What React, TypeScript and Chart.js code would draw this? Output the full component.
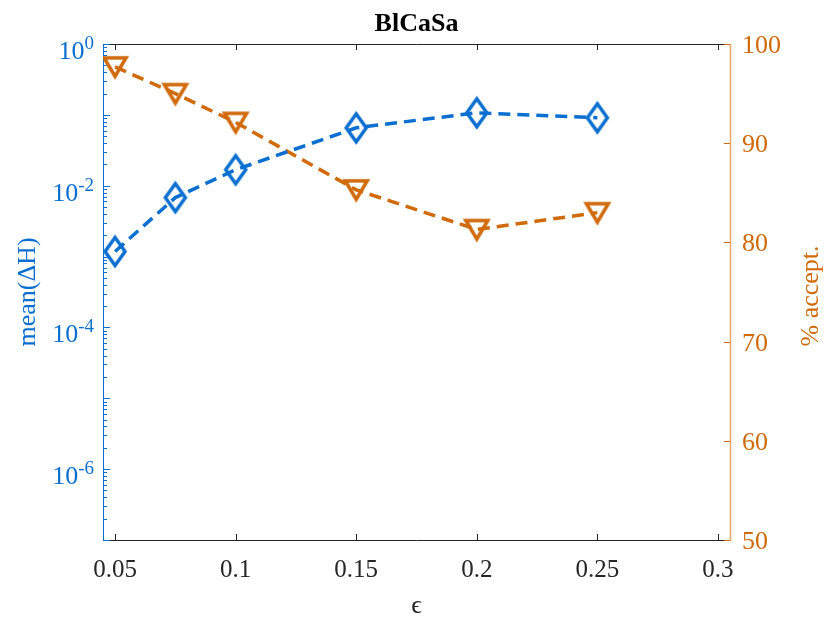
import React, { useEffect, useRef } from 'react';
import { Chart, registerables } from 'chart.js';

Chart.register(...registerables);

// ---- data ----
const epsilons = [0.05, 0.075, 0.1, 0.15, 0.2, 0.25];
const meanDeltaH = [1.18e-3, 6.8e-3, 1.68e-2, 6.56e-2, 0.107, 0.091];
const acceptPct = [97.7, 95.0, 92.1, 85.3, 81.3, 83.0];
const xTicks = [0.05, 0.1, 0.15, 0.2, 0.25, 0.3];
const xTickLabels = ['0.05', '0.1', '0.15', '0.2', '0.25', '0.3'];
const leftLabelExps = [-6, -4, -2, 0];
const rightTicks = [50, 60, 70, 80, 90, 100];
const titleText = 'BlCaSa';
const xTitle = 'ϵ';
const leftTitle = 'mean(ΔH)';
const rightTitle = '% accept.';

// ---- style ----
const BLUE = '#0a6fd0';
const ORANGE = '#d06a0a';
const ORANGE_AXIS = '#e9a66a';
const GRAY = '#262626';
const FONT = '"Liberation Serif", "Times New Roman", serif';

function makeDiamond(): HTMLCanvasElement {
  const c = document.createElement('canvas');
  c.width = 28;
  c.height = 36;
  const g = c.getContext('2d')!;
  g.strokeStyle = BLUE;
  g.lineWidth = 3.5;
  g.lineJoin = 'miter';
  g.beginPath();
  g.moveTo(14, 4);
  g.lineTo(24, 18);
  g.lineTo(14, 32);
  g.lineTo(4, 18);
  g.closePath();
  g.stroke();
  return c;
}

function makeTriangle(): HTMLCanvasElement {
  const c = document.createElement('canvas');
  c.width = 30;
  c.height = 30;
  const g = c.getContext('2d')!;
  g.strokeStyle = ORANGE;
  g.lineWidth = 3.5;
  g.lineJoin = 'miter';
  g.beginPath();
  g.moveTo(4, 6);
  g.lineTo(26, 6);
  g.lineTo(15, 24.5);
  g.closePath();
  g.stroke();
  return c;
}

const axesPlugin = {
  id: 'matlabAxes',
  beforeDatasetsDraw(chart: any) {
    const { ctx, chartArea: a, scales } = chart;
    const xs = scales.x;
    const yl = scales.y;
    const yr = scales.y1;
    ctx.save();
    ctx.lineWidth = 1;

    // top and bottom box lines
    ctx.strokeStyle = GRAY;
    ctx.beginPath();
    ctx.moveTo(a.left, a.bottom + 0.5);
    ctx.lineTo(a.right, a.bottom + 0.5);
    ctx.moveTo(a.left, a.top + 0.5);
    ctx.lineTo(a.right, a.top + 0.5);
    ctx.stroke();

    // x ticks (inward, both top and bottom)
    ctx.beginPath();
    for (const t of xTicks) {
      const px = Math.round(xs.getPixelForValue(t)) + 0.5;
      ctx.moveTo(px, a.bottom);
      ctx.lineTo(px, a.bottom - 6);
      ctx.moveTo(px, a.top);
      ctx.lineTo(px, a.top + 6);
    }
    ctx.stroke();

    ctx.fillStyle = GRAY;
    ctx.font = `25px ${FONT}`;
    ctx.textAlign = 'center';
    ctx.textBaseline = 'alphabetic';
    xTicks.forEach((t, i) => {
      ctx.fillText(xTickLabels[i], xs.getPixelForValue(t), a.bottom + 37);
    });

    // left log axis
    ctx.strokeStyle = BLUE;
    ctx.beginPath();
    ctx.moveTo(a.left + 0.5, a.top);
    ctx.lineTo(a.left + 0.5, a.bottom + 1);
    const minExp = Math.round(Math.log10(yl.min));
    const maxExp = Math.round(Math.log10(yl.max));
    for (let e = minExp; e <= maxExp; e++) {
      const py = Math.round(yl.getPixelForValue(Math.pow(10, e))) + 0.5;
      ctx.moveTo(a.left, py);
      ctx.lineTo(a.left + 7, py);
      if (e < maxExp) {
        for (let k = 2; k <= 9; k++) {
          const pm = Math.round(yl.getPixelForValue(k * Math.pow(10, e))) + 0.5;
          ctx.moveTo(a.left, pm);
          ctx.lineTo(a.left + 4, pm);
        }
      }
    }
    ctx.stroke();

    ctx.fillStyle = BLUE;
    for (const e of leftLabelExps) {
      const py = yl.getPixelForValue(Math.pow(10, e));
      const sup = String(e);
      ctx.font = `19px ${FONT}`;
      const ws = ctx.measureText(sup).width;
      const rightEdge = a.left - 9;
      ctx.textAlign = 'left';
      ctx.fillText(sup, rightEdge - ws, py + 5);
      ctx.font = `26px ${FONT}`;
      ctx.textAlign = 'right';
      ctx.fillText('10', rightEdge - ws, py + 15);
    }

    // right linear axis
    ctx.strokeStyle = ORANGE_AXIS;
    ctx.lineWidth = 1.5;
    ctx.beginPath();
    ctx.moveTo(a.right + 0.5, a.top);
    ctx.lineTo(a.right + 0.5, a.bottom + 1);
    ctx.stroke();
    ctx.strokeStyle = ORANGE;
    ctx.lineWidth = 1;
    ctx.beginPath();
    for (const t of rightTicks) {
      const py = Math.round(yr.getPixelForValue(t)) + 0.5;
      ctx.moveTo(a.right, py);
      ctx.lineTo(a.right - 6, py);
    }
    ctx.stroke();
    ctx.fillStyle = ORANGE;
    ctx.font = `26px ${FONT}`;
    ctx.textAlign = 'left';
    for (const t of rightTicks) {
      ctx.fillText(String(t), a.right + 12, yr.getPixelForValue(t) + 9);
    }

    // titles
    const cx = (a.left + a.right) / 2;
    const cy = (a.top + a.bottom) / 2;
    ctx.fillStyle = '#000';
    ctx.font = `bold 26px ${FONT}`;
    ctx.textAlign = 'center';
    ctx.fillText(titleText, cx, a.top - 13);

    ctx.fillStyle = GRAY;
    ctx.font = `26px ${FONT}`;
    ctx.fillText(xTitle, cx, a.bottom + 73);

    ctx.save();
    ctx.fillStyle = BLUE;
    ctx.translate(a.left - 68, cy);
    ctx.rotate(-Math.PI / 2);
    ctx.textAlign = 'center';
    ctx.fillText(leftTitle, 0, 0);
    ctx.restore();

    ctx.save();
    ctx.fillStyle = ORANGE;
    ctx.translate(a.right + 88, cy + 4);
    ctx.rotate(-Math.PI / 2);
    ctx.textAlign = 'center';
    ctx.fillText(rightTitle, 0, 0);
    ctx.restore();

    ctx.restore();
  },
};

export default function App() {
  const ref = useRef<HTMLCanvasElement | null>(null);

  useEffect(() => {
    if (!ref.current) return;
    const diamond = makeDiamond();
    const tri = makeTriangle();
    const chart = new Chart(ref.current, {
      type: 'line',
      data: {
        datasets: [
          {
            label: leftTitle,
            data: epsilons.map((x, i) => ({ x, y: meanDeltaH[i] })),
            yAxisID: 'y',
            borderColor: BLUE,
            borderWidth: 3.5,
            borderDash: [12, 7],
            pointStyle: diamond as any,
            pointRadius: 10,
            fill: false,
            tension: 0,
          },
          {
            label: rightTitle,
            data: epsilons.map((x, i) => ({ x, y: acceptPct[i] })),
            yAxisID: 'y1',
            borderColor: ORANGE,
            borderWidth: 3.5,
            borderDash: [12, 7],
            pointStyle: tri as any,
            pointRadius: 10,
            fill: false,
            tension: 0,
          },
        ],
      },
      options: {
        responsive: false,
        animation: false,
        devicePixelRatio: 1,
        layout: { padding: { left: 103, right: 94, top: 44, bottom: 79 } },
        plugins: { legend: { display: false }, tooltip: { enabled: false } },
        scales: {
          x: { type: 'linear', min: 0.045, max: 0.305, display: false },
          y: { type: 'logarithmic', min: 1e-7, max: 1, display: false },
          y1: { type: 'linear', min: 50, max: 100, display: false, position: 'right' },
        },
      },
      plugins: [axesPlugin],
    });
    return () => chart.destroy();
  }, []);

  return (
    <div style={{ position: 'fixed', left: 0, top: 0, width: 824, height: 619, background: '#fff' }}>
      <canvas ref={ref} width={824} height={619} />
    </div>
  );
}
